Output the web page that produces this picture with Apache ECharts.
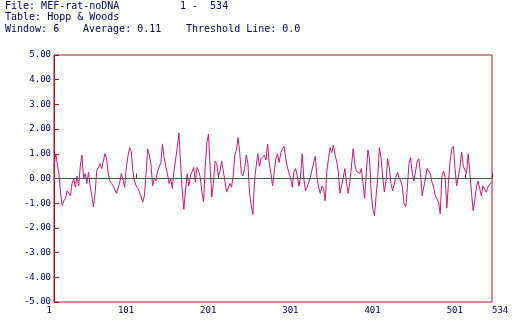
<!DOCTYPE html>
<html>
<head>
<meta charset="utf-8">
<script src="https://cdn.jsdelivr.net/npm/echarts@6/dist/echarts.min.js"></script>
<style>
html,body{margin:0;padding:0;background:#fff;}
#c{width:522px;height:332px;}
</style>
</head>
<body>
<div id="c"></div>
<script>
// Header texts
const headerLines = [
  ["File: MEF-rat-noDNA", "1 -  534"],
  ["Table: Hopp & Woods"],
  ["Window: 6", "Average: 0.11", "Threshold Line: 0.0"]
];
// Sequence range and sampling of readings (every 2nd residue starting at 1)
const firstResidue = 1;
const lastResidue = 534;
const step = 2;
// x tick labels
const xTicks = [1, 101, 201, 301, 401, 501, 534];
// y range
const yMin = -5, yMax = 5, yInterval = 1;
const threshold = 0.0;
// hydrophilicity values read at residues 1,3,5,...,533
const hydropathy = [
  0.5, 1.0, 0.6, 0.2, -0.6, -1.1, -0.9, -0.8, -0.5, -0.6, -0.7, -0.2, 0.0, -0.35, 0.1, -0.3,
  0.5, 0.95, 0.0, 0.2, -0.2, 0.25, -0.3, -0.7, -1.15, -0.6, 0.3, 0.45, 0.6, 0.4, 0.7, 1.0,
  0.8, 0.2, -0.1, -0.2, -0.3, -0.35, -0.6, -0.55, -0.15, 0.2, 0.2, -0.35, 0.45, 0.9, 1.25, 1.1,
  0.3, -0.1, -0.3, -0.4, -0.55, -0.5, -0.95, -0.7, 0.2, 1.2, 0.95, 0.6, -0.3, 0.0, -0.1, 0.3,
  0.25, 0.65,
  1.4, 0.85, 0.5, 0.2, -0.2, 0.0, -0.4, 0.3, 0.25, 1.25, 1.84, 0.65, -0.5, -1.25, -0.5, 0.2,
  -0.3, 0.1, 0.05, 0.45, -0.15, 0.45, 0.3, 0.05, -0.55, -0.95, 0.45, 1.45, 1.8, 0.45, -0.75, -0.2,
  0.7,
  0.6, 0.1, 0.3, 0.7, 0.65, -0.1, -0.55, -0.6, -0.2, -0.35, 0.1, 0.95, 1.15, 1.65, 1.05, 0.2,
  0.1, 0.4, 0.95, 0.6, -0.6, -1.1, -1.45, -0.1, 0.5, 1.0, 0.5, 0.8, 0.8, 0.95, 0.75, 1.4,
  0.6,
  0.2, -0.3, 0.25, 0.8, 1.0, 0.65, 1.05, 1.2, 1.3, 0.8, 0.45, 0.5, 0.0, -0.35, 0.3, 0.4,
  0.1, -0.3, 0.05, 1.0, 0.0, -0.5, -0.35, -0.15, 0.05, 0.0, 0.65, 0.9, 0.05, -0.35, -0.6, -0.3,
  -0.4, -0.9, 0.3,
  0.8, 1.25, 1.05, 1.35, 0.95, 0.7, 0.25, -0.6, -0.3, 0.05, 0.4, -0.2, -0.6, -0.15, 0.5, 1.2,
  0.6, 0.3, 0.3, 0.2, 0.4, -0.2, -0.8, 0.2, 1.15, 0.8, -0.6, -1.25, -1.5, -0.7, 0.1, 1.25,
  0.85,
  0.05, -0.55, -0.1, 0.8, 0.45, -0.2, -0.5, -0.55, 0.05, 0.25, 0.0, -0.1, -0.35, -1.0, -1.15, -0.35,
  0.6, 0.85, 0.2, -0.1, 0.3, 0.7, 0.8, 0.2, -0.7, -0.75, 0.0, 0.4, 0.35, 0.2, -0.15, -0.35,
  -0.7,
  -0.7, -0.95, -1.43, 0.1, 0.3, 0.05, -1.2, -0.2, 0.7, 1.2, 1.3, 0.4, -0.3, -0.35, 0.45, 1.07,
  0.5, 0.45, 0.2, 1.0, 0.25, -0.55, -1.3, -0.9, -0.35, -0.1, -0.4, -0.7, -0.3, -0.35, -0.55, -0.35,
  -0.3, -0.15
];

const seriesData = hydropathy.map((v, i) => [firstResidue + step * i, v]);

const navy = '#00005e';
const frameRed = '#b0102a';
const lineMagenta = '#c8197a';
const thresholdColor = '#3d5a3d';
const mono = '"DejaVu Sans Mono", "Liberation Mono", monospace';

const chart = echarts.init(document.getElementById('c'), null, {renderer: 'canvas'});

const headerGraphics = [];
const headerX = [[5, 180], [5], [5, 83, 186]];
headerLines.forEach((line, li) => {
  line.forEach((txt, ti) => {
    headerGraphics.push({
      type: 'text', left: headerX[li][ti], top: 1 + li * 11.5,
      style: {text: txt, fill: navy, font: '10px ' + mono}
    });
  });
});

chart.setOption({
  animation: false,
  backgroundColor: '#ffffff',
  graphic: headerGraphics,
  grid: {left: 54, right: 30, top: 55, bottom: 30, show: true, borderColor: frameRed, borderWidth: 1, containLabel: false},
  xAxis: {
    type: 'value', min: firstResidue, max: lastResidue,
    axisLine: {show: true, lineStyle: {color: frameRed, width: 1}},
    axisTick: {show: true, inside: true, length: 5, customValues: xTicks, lineStyle: {color: frameRed}},
    axisLabel: {
      customValues: xTicks, margin: 4, color: navy, fontFamily: mono, fontSize: 9,
      align: 'right', alignMinLabel: 'right', alignMaxLabel: 'left',
      padding: [0, 2, 0, 0]
    },
    splitLine: {show: false}
  },
  yAxis: {
    type: 'value', min: yMin, max: yMax, interval: yInterval,
    axisLine: {show: true, lineStyle: {color: frameRed, width: 1}},
    axisTick: {show: true, inside: true, length: 5, lineStyle: {color: frameRed}},
    axisLabel: {color: navy, fontFamily: mono, fontSize: 9, margin: 3, padding: [0, 0, 6, 0],
      formatter: v => v.toFixed(2)},
    splitLine: {show: false}
  },
  series: [{
    type: 'line', data: seriesData, showSymbol: false, symbol: 'none',
    lineStyle: {color: lineMagenta, width: 1}, z: 2,
    markLine: {
      silent: true, symbol: 'none', label: {show: false},
      lineStyle: {color: thresholdColor, width: 1, type: 'solid'},
      data: [{yAxis: threshold}], z: 3
    }
  }]
});
</script>
</body>
</html>
